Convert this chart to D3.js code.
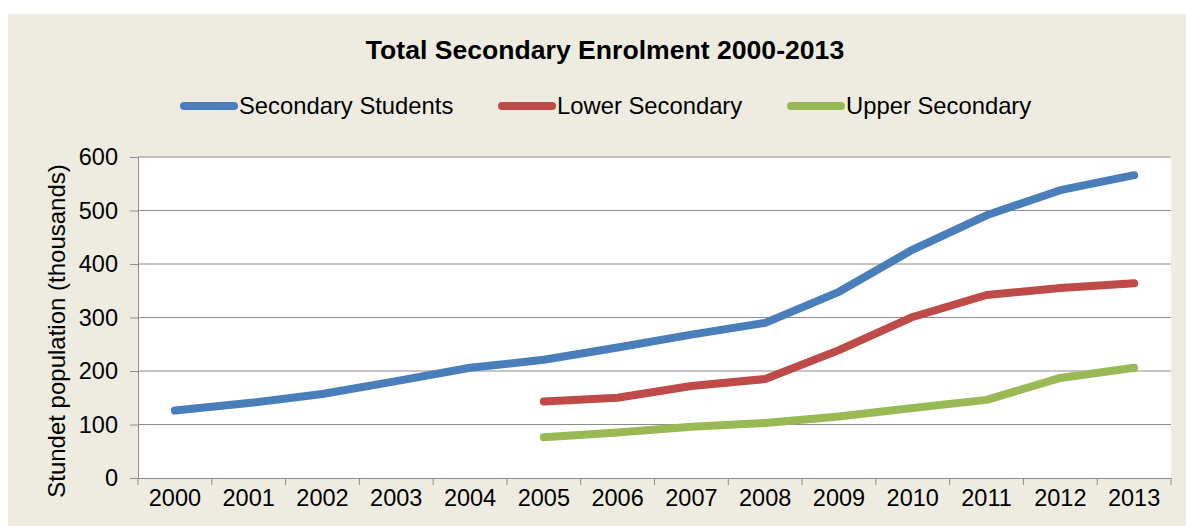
<!DOCTYPE html>
<html>
<head>
<meta charset="utf-8">
<script src="https://cdn.jsdelivr.net/npm/d3@7"></script>
<style>
  html, body { margin: 0; padding: 0; background: #ffffff; }
  svg { display: block; font-family: "Liberation Sans", Arial, sans-serif; }
</style>
</head>
<body>
<svg id="chart" width="1186" height="526"></svg>
<script>
// Enrolment by year, in thousands of students
const years = ["2000","2001","2002","2003","2004","2005","2006","2007","2008","2009","2010","2011","2012","2013"];
const secondaryStudents = [126, 140, 157, 181, 206, 221, 244, 268, 290, 348, 427, 491, 538, 566];
const lowerSecondary    = [null, null, null, null, null, 143, 150, 172, 185, 239, 301, 342, 355, 364];
const upperSecondary    = [null, null, null, null, null, 76, 85, 96, 103, 115, 131, 146, 187, 206];
const yTicks = [0, 100, 200, 300, 400, 500, 600];

const seriesNames  = ["Secondary Students", "Lower Secondary", "Upper Secondary"];
const seriesColors = ["#4A7EBB", "#BE4B48", "#98B954"];
const seriesValues = [secondaryStudents, lowerSecondary, upperSecondary];

const svg = d3.select("#chart");
const W = 1186, H = 526;
const plot = { left: 138, right: 1171, top: 157, bottom: 478 };

// chart background
svg.append("rect").attr("x", 8).attr("y", 14).attr("width", W - 8).attr("height", H - 14)
  .attr("fill", "#EEECE1");
svg.append("rect").attr("x", plot.left).attr("y", plot.top)
  .attr("width", plot.right - plot.left).attr("height", plot.bottom - plot.top)
  .attr("fill", "#ffffff");

const x = d3.scaleBand().domain(years).range([plot.left, plot.right]).padding(0);
const y = d3.scaleLinear().domain([0, 600]).range([plot.bottom, plot.top]);
const cx = d => x(d) + x.bandwidth() / 2;

// horizontal gridlines
svg.append("g").selectAll("line").data(yTicks.filter(t => t > 0)).join("line")
  .attr("x1", plot.left).attr("x2", plot.right)
  .attr("y1", d => y(d)).attr("y2", d => y(d))
  .attr("stroke", "#8C8C8C").attr("stroke-width", 1);

// y axis
const yAxis = svg.append("g").attr("transform", `translate(${plot.left},0)`)
  .call(d3.axisLeft(y).tickValues(yTicks).tickSize(8).tickPadding(12));
yAxis.select(".domain").attr("stroke", "#8C8C8C");
yAxis.selectAll(".tick line").attr("stroke", "#8C8C8C");
yAxis.selectAll(".tick text").attr("font-size", 23.5).attr("fill", "#000")
  .attr("font-family", "Liberation Sans, Arial, sans-serif");

// x axis: labels centred in each category, tick marks on category boundaries
const xAxis = svg.append("g").attr("transform", `translate(0,${plot.bottom})`)
  .call(d3.axisBottom(x).tickSize(0).tickPadding(11));
xAxis.select(".domain").attr("stroke", "#8C8C8C");
xAxis.selectAll(".tick text").attr("font-size", 23.5).attr("fill", "#000")
  .attr("font-family", "Liberation Sans, Arial, sans-serif");
const edges = years.map(d => x(d)).concat([x(years[years.length - 1]) + x.bandwidth()]);
svg.append("g").selectAll("line").data(edges).join("line")
  .attr("x1", d => d).attr("x2", d => d)
  .attr("y1", plot.bottom).attr("y2", plot.bottom + 7)
  .attr("stroke", "#8C8C8C").attr("stroke-width", 1);

// series lines
const line = d3.line()
  .defined(d => d.v != null)
  .x(d => cx(d.year))
  .y(d => y(d.v));

seriesValues.forEach((vals, i) => {
  const pts = years.map((yr, j) => ({ year: yr, v: vals[j] }));
  svg.append("path").datum(pts)
    .attr("d", line)
    .attr("fill", "none")
    .attr("stroke", seriesColors[i])
    .attr("stroke-width", 8)
    .attr("stroke-linecap", "round")
    .attr("stroke-linejoin", "round");
});

// title
svg.append("text").attr("x", 605).attr("y", 59).attr("text-anchor", "middle")
  .attr("font-size", 26.6).attr("font-weight", "bold").attr("fill", "#000")
  .text("Total Secondary Enrolment 2000-2013");

// legend
const legendX = [180, 498, 787];
const legend = svg.append("g");
seriesNames.forEach((name, i) => {
  legend.append("line")
    .attr("x1", legendX[i] + 4).attr("x2", legendX[i] + 54)
    .attr("y1", 106).attr("y2", 106)
    .attr("stroke", seriesColors[i]).attr("stroke-width", 8)
    .attr("stroke-linecap", "round");
  legend.append("text")
    .attr("x", legendX[i] + 59).attr("y", 114)
    .attr("font-size", 23.8).attr("fill", "#000")
    .text(name);
});

// y axis title
svg.append("text")
  .attr("transform", `translate(65,331) rotate(-90)`)
  .attr("text-anchor", "middle")
  .attr("font-size", 24).attr("fill", "#000")
  .text("Stundet population (thousands)");
</script>
</body>
</html>
